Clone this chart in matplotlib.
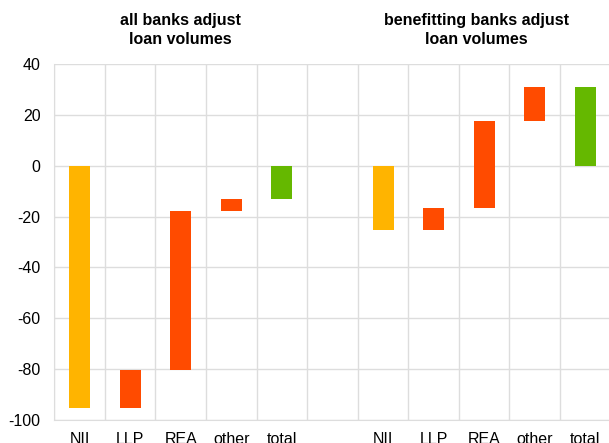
import matplotlib.pyplot as plt
import numpy as np

plt.rcParams['font.family'] = ['Liberation Sans', 'DejaVu Sans']
plt.rcParams['axes.unicode_minus'] = False

# categories (empty slot separates the two scenarios)
labels = ['NII', 'LLP', 'REA', 'other', 'total', '',
          'NII', 'LLP', 'REA', 'other', 'total']
# waterfall bars: lower and upper end of each bar
bar_low = [-95.5, -95.5, -80.3, -17.7, -13.3, np.nan,
           -25.5, -25.5, -16.5, 17.6, 0.0]
bar_high = [0.0, -80.3, -17.7, -13.3, 0.0, np.nan,
            0.0, -16.5, 17.6, 31.1, 31.1]
kinds = ['nii', 'step', 'step', 'step', 'total', '',
         'nii', 'step', 'step', 'step', 'total']
titles = ['all banks adjust\nloan volumes', 'benefitting banks adjust\nloan volumes']

colors = {'nii': '#FFB400', 'step': '#FF4B00', 'total': '#65B800', '': 'white'}
grid_c = '#dddddd'

fig = plt.figure(figsize=(6.09, 4.43), dpi=100)
ax = fig.add_axes([0.0892, 0.053, 0.9134, 0.802])

x = np.arange(len(labels))
low = np.array(bar_low)
high = np.array(bar_high)
ax.bar(x, high - low, bottom=low, width=0.415,
       color=[colors[k] for k in kinds], zorder=3)

ax.set_xlim(-0.5, len(labels) - 0.5)
ax.set_ylim(-100, 40)
ax.set_yticks(range(-100, 41, 20))
ax.set_xticks(x)
ax.set_xticklabels(labels)
ax.set_xticks(np.arange(-0.5, len(labels), 1), minor=True)

ax.grid(True, axis='y', color=grid_c, linewidth=1, zorder=0)
ax.grid(True, axis='x', which='minor', color=grid_c, linewidth=1, zorder=0)
ax.tick_params(which='both', length=0)
ax.tick_params(axis='y', labelsize=11.5, pad=10)
ax.tick_params(axis='x', labelsize=11.5, pad=9)

for side in ['top', 'right']:
    ax.spines[side].set_visible(False)
for side in ['left', 'bottom']:
    ax.spines[side].set_color(grid_c)

ax.text(2.0, 1.0965, titles[0], transform=ax.get_xaxis_transform(),
        ha='center', va='center', fontsize=11.5, fontweight='bold', linespacing=1.35)
ax.text(7.85, 1.0965, titles[1], transform=ax.get_xaxis_transform(),
        ha='center', va='center', fontsize=11.5, fontweight='bold', linespacing=1.35)

fig.savefig('out.png', dpi=100)
